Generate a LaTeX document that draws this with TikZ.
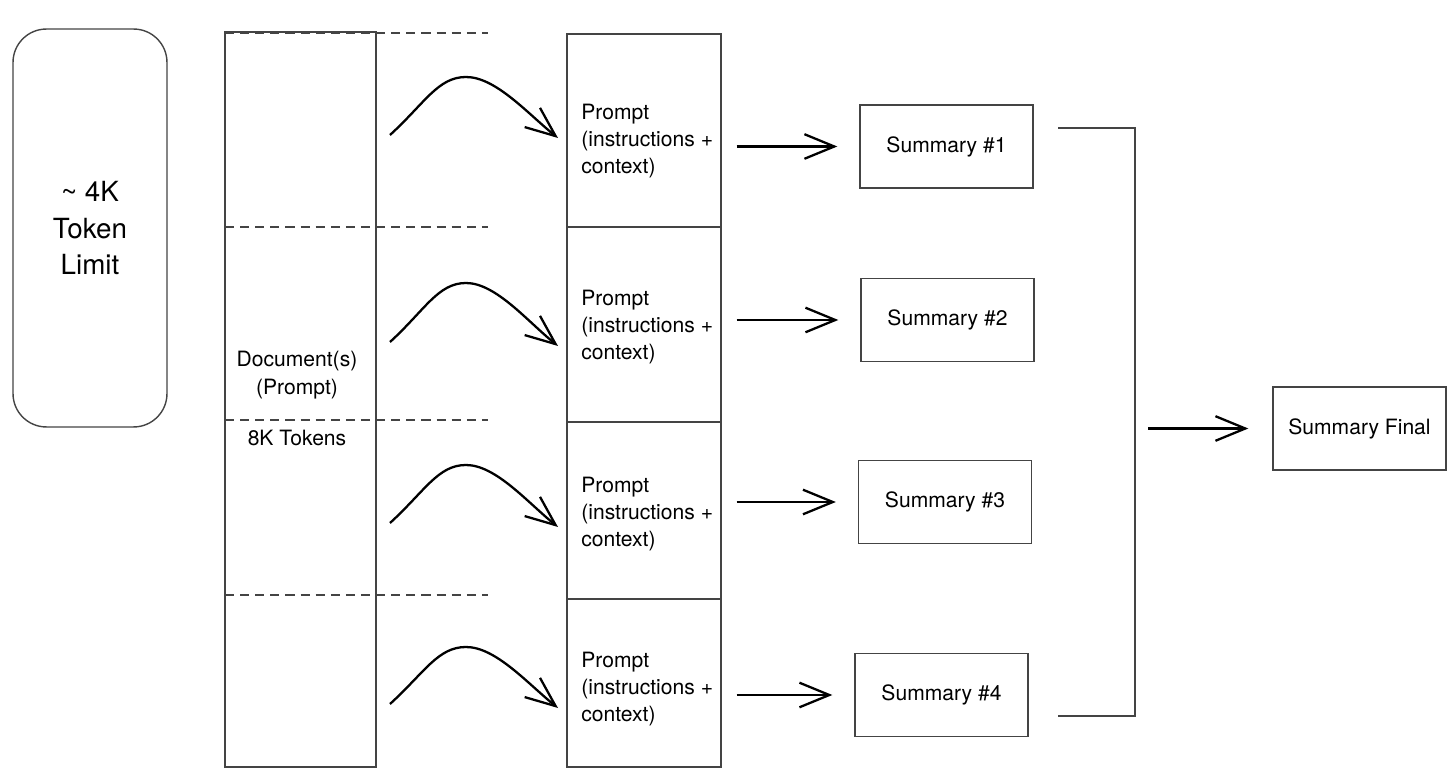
\documentclass[tikz,border=0pt]{standalone}
\usepackage{fontspec}
\setmainfont{TeX Gyre Heros}
\usepackage{tikz}
\usetikzlibrary{arrows.meta,positioning,calc}
\definecolor{edgegray}{RGB}{68,68,68}

\begin{document}
\begin{tikzpicture}[x=0.02cm,y=-0.02cm,font=\fontsize{12}{15.5}\selectfont,
  box/.style={draw=edgegray,line width=0.8pt,inner sep=0pt},
  sumbox/.style={box,minimum width=3.46cm,minimum height=1.66cm},
  arr/.style={line width=1.3pt,-{Straight Barb[length=17pt,width=14pt]}},
  cut/.style={edgegray,line width=0.8pt,dash pattern=on 5.2pt off 3.4pt}]
  \useasboundingbox (0,0) rectangle (1454,776);
  % context window
  \node[box,rounded corners=19pt,minimum width=3.08cm,minimum height=7.96cm,
        align=center,font=\fontsize{15.8}{20.5}\selectfont] (lim) at (90,228)
       {\textasciitilde{} 4K\\Token\\Limit};
  % long input split into chunks
  \node[box,minimum width=3.02cm,minimum height=14.7cm] (doc) at (300.5,399.5) {};
  \node[align=center] (doclbl) at (297,375) {Document(s)\\(Prompt)};
  \node (toklbl) at (297,438) {8K Tokens};
  \foreach \y in {33,227,420,595}
    \draw[cut] (225,\y) -- (488,\y);
  % one prompt per chunk
  \foreach \i/\yc/\h/\yt in {1/130.5/3.86/141,2/324.5/3.9/327,3/510.5/3.54/514,4/683/3.36/689} {
    \node[box,minimum width=3.08cm,minimum height=\h cm] (p\i) at (644,\yc) {};
    \node[anchor=west,align=left,inner sep=0pt] (pt\i) at (581,\yt)
         {Prompt\\(instructions +\\context)};
  }
  \foreach \i/\ys/\yp/\ye in {1/135/77/138,2/342/283/346,3/523/465/527,4/704/647/708} {
    \coordinate (cs\i) at (390,\ys);
    \coordinate (ck\i) at (466,\yp);
    \coordinate (ce\i) at (558,\ye);
    \draw[arr] (cs\i) .. controls +(35,-32) and +(-28,0) .. (ck\i)
                      .. controls +(30,0) and +(-30,-24) .. (ce\i);
  }
  % partial summaries
  \node[sumbox] (s1) at (946.5,146.5) {Summary \#1};
  \node[sumbox] (s2) at (947.5,320) {Summary \#2};
  \node[sumbox] (s3) at (945,502) {Summary \#3};
  \node[sumbox] (s4) at (941.5,695) {Summary \#4};
  \foreach \i in {1,...,4}
    \draw[arr,shorten <=0.3cm,shorten >=0.44cm] (s\i.west -| p\i.east) -- (s\i.west);
  % merge
  \coordinate (b1) at (1058,128);
  \coordinate (b2) at (1135,128);
  \coordinate (b3) at (1135,716);
  \coordinate (b4) at (1058,716);
  \draw[edgegray,line width=0.8pt] (b1) -- (b2) -- (b3) -- (b4);
  \node[sumbox] (fin) at (1359.5,428.5) {Summary Final};
  \draw[arr,shorten <=0.26cm,shorten >=0.48cm] (fin.west -| b2) -- (fin.west);
\end{tikzpicture}
\end{document}
